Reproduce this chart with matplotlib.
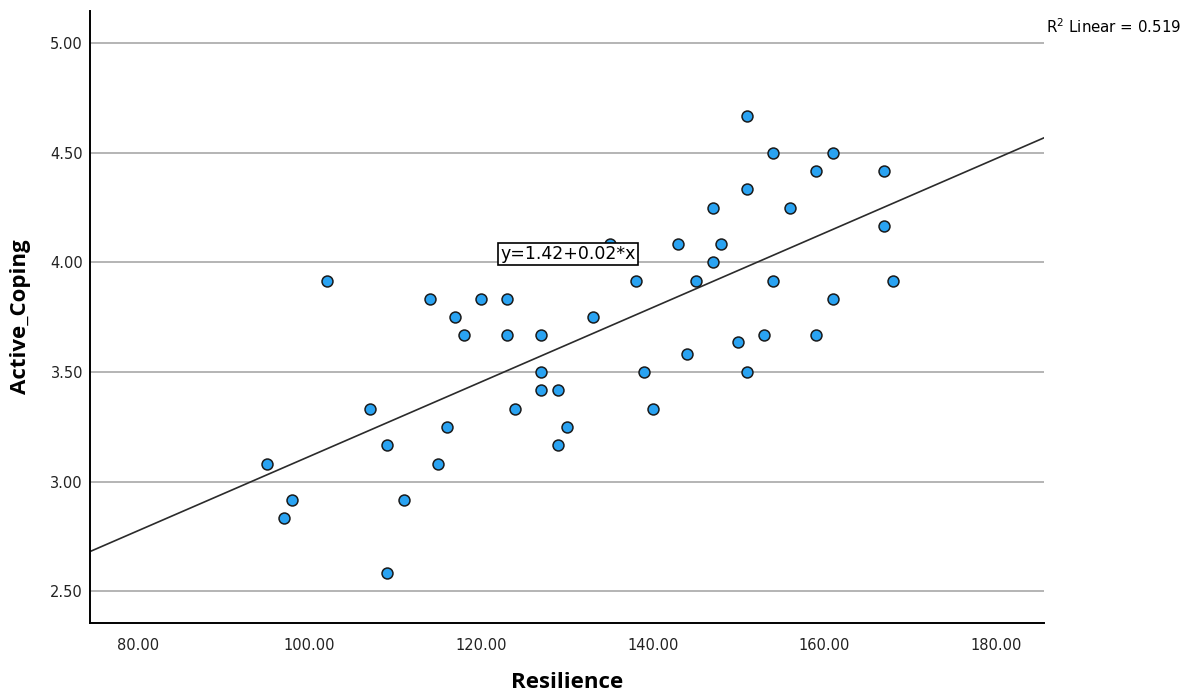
import numpy as np
import matplotlib
matplotlib.use("Agg")
import matplotlib.pyplot as plt

# Resilience scores and Active_Coping means for each respondent
resilience = [95, 97, 98, 102, 107, 109, 109, 111, 114, 115,
              116, 117, 118, 120, 123, 123, 124, 127, 127, 127,
              129, 129, 130, 133, 135, 138, 139, 140, 143, 144,
              145, 147, 147, 148, 150, 151, 151, 151, 153, 154,
              154, 156, 159, 159, 161, 161, 167, 167, 168]
active_coping = [3.083, 2.833, 2.917, 3.917, 3.333, 3.167, 2.583, 2.917, 3.833, 3.083,
                 3.25, 3.75, 3.667, 3.833, 3.833, 3.667, 3.333, 3.667, 3.5, 3.417,
                 3.417, 3.167, 3.25, 3.75, 4.083, 3.917, 3.5, 3.333, 4.083, 3.583,
                 3.917, 4.25, 4.0, 4.083, 3.636, 4.667, 4.333, 3.5, 3.667, 4.5,
                 3.917, 4.25, 4.417, 3.667, 4.5, 3.833, 4.417, 4.167, 3.917]
r2_linear = 0.519

x_ticks = [80, 100, 120, 140, 160, 180]
y_ticks = [2.5, 3.0, 3.5, 4.0, 4.5, 5.0]

x = np.array(resilience, dtype=float)
y = np.array(active_coping)
slope, intercept = np.polyfit(x, y, 1)

fig = plt.figure(figsize=(11.85, 6.98), dpi=100)
ax = fig.add_axes([0.0759, 0.108, 0.805, 0.876])
xlim = (74.4, 185.6)
ax.set_xlim(*xlim)
ax.set_ylim(2.358, 5.145)

ax.set_yticks(y_ticks)
ax.set_xticks(x_ticks)
ax.set_yticklabels([f"{v:.2f}" for v in y_ticks])
ax.set_xticklabels([f"{v:.2f}" for v in x_ticks])
ax.tick_params(length=0, labelsize=10.5, colors="#222222")
ax.tick_params(axis="y", pad=5)
ax.tick_params(axis="x", pad=11)

ax.grid(axis="y", color="#b4b4b4", linewidth=1.4)
ax.set_axisbelow(True)
for s in ["top", "right"]:
    ax.spines[s].set_visible(False)
for s in ["left", "bottom"]:
    ax.spines[s].set_linewidth(1.4)
    ax.spines[s].set_color("black")

# fit line across the full x range
xs = np.array(xlim)
ax.plot(xs, intercept + slope * xs, color="#2b2b2b", linewidth=1.2, zorder=2)

ax.scatter(x, y, s=62, color="#2aa3f2", edgecolor="#1a1a1a", linewidth=1.1, zorder=3)

ax.text(130.1, 4.04, f"y={intercept:.2f}+{slope:.2f}*x", fontsize=12.5,
        ha="center", va="center", zorder=4,
        bbox=dict(boxstyle="square,pad=0.12", facecolor="white", edgecolor="black", linewidth=1.2))

fig.text(0.883, 0.962, f"R$^2$ Linear = {r2_linear:.3f}", fontsize=10.8, ha="left", va="center")

ax.set_xlabel("Resilience", fontsize=16, fontweight="bold", family="Open Sans", labelpad=14)
ax.set_ylabel("Active_Coping", fontsize=16, fontweight="bold", family="Open Sans")
ax.yaxis.set_label_coords(-0.062, 0.5)

fig.savefig("out.png", dpi=100)
